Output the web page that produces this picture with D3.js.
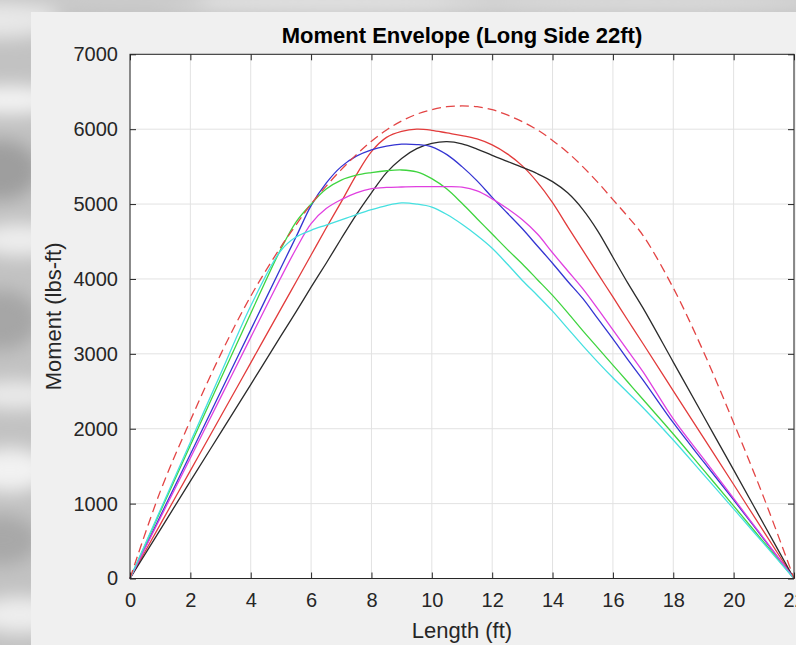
<!DOCTYPE html>
<html>
  <head>
    <title>Moment Envelope</title>
    <style>
      body { margin: 0; background: #c4c4c4; }
      svg { display: block; font-family: "Liberation Sans", Arial, Helvetica, sans-serif; }
      .grid line { stroke: #e2e2e2; stroke-width: 1px; }
      .curve { fill: none; stroke-width: 1.3px; }
    </style>
    <script src="https://cdn.jsdelivr.net/npm/d3@7"></script>
  </head>
  <body>
    <div id="chart"></div>
    <script type="text/javascript">
      // positions along the span (ft)
      var positions = [0, 1, 2, 3, 4, 5, 5.5, 6, 6.5, 7, 7.5, 8, 8.5, 9, 9.5, 10, 10.5, 11, 11.5,
                       12, 12.5, 13, 13.5, 14, 14.5, 15, 15.5, 16, 16.5, 17, 18, 19, 20, 21, 22];

      // moment values (lbs-ft) read at each position
      var envelope = [0, 1160, 2110, 2990, 3770, 4430, 4720, 5000, 5240, 5460, 5660, 5840, 5990, 6110, 6200,
                      6260, 6300, 6310, 6300, 6260, 6190, 6100, 5990, 5850, 5690, 5500, 5290, 5060, 4830,
                      4580, 3880, 3030, 2080, 1080, 0];
      var redM     = [0, 720, 1440, 2160, 2880, 3600, 3960, 4320, 4680, 5030, 5390, 5700, 5890, 5970, 6000,
                      5985, 5950, 5915, 5870, 5790, 5670, 5510, 5290, 5020, 4700, 4385, 4070, 3760, 3445,
                      3135, 2505, 1880, 1255, 625, 0];
      var blackM   = [0, 650, 1300, 1945, 2590, 3240, 3560, 3890, 4210, 4540, 4860, 5150, 5420, 5610, 5740,
                      5810, 5833, 5805, 5735, 5650, 5570, 5490, 5405, 5300, 5150, 4930, 4640, 4290, 3940,
                      3610, 2890, 2170, 1450, 725, 0];
      var blueM    = [0, 830, 1660, 2490, 3320, 4150, 4560, 4980, 5280, 5500, 5640, 5725, 5775, 5800, 5795,
                      5765, 5660, 5500, 5310, 5090, 4880, 4670, 4440, 4210, 3970, 3740, 3470, 3200, 2920,
                      2650, 2080, 1560, 1050, 525, 0];
      var greenM   = [0, 890, 1780, 2660, 3540, 4400, 4760, 5000, 5200, 5320, 5385, 5420, 5445, 5455, 5430,
                      5340, 5200, 5010, 4805, 4600, 4395, 4200, 3990, 3780, 3550, 3310, 3080, 2850, 2620,
                      2390, 1930, 1450, 970, 485, 0];
      var magentaM = [0, 805, 1610, 2415, 3220, 4020, 4400, 4740, 4940, 5060, 5150, 5205, 5222, 5228, 5232,
                      5233, 5232, 5225, 5175, 5070, 4940, 4790, 4600, 4350, 4110, 3870, 3600, 3320, 3040,
                      2760, 2130, 1600, 1070, 535, 0];
      var cyanM    = [0, 910, 1820, 2730, 3640, 4380, 4560, 4650, 4720, 4790, 4860, 4925, 4980, 5015, 5000,
                      4960, 4860, 4730, 4580, 4410, 4200, 3980, 3780, 3570, 3340, 3110, 2890, 2680, 2480,
                      2280, 1850, 1390, 930, 465, 0];

      var xTicks = [0, 2, 4, 6, 8, 10, 12, 14, 16, 18, 20, 22];
      var yTicks = [0, 1000, 2000, 3000, 4000, 5000, 6000, 7000];

      var series = [
        {values: redM,     color: "#e23b3b"},
        {values: blackM,   color: "#2b2b2b"},
        {values: blueM,    color: "#3434d2"},
        {values: greenM,   color: "#3fd43f"},
        {values: magentaM, color: "#e040e0"},
        {values: cyanM,    color: "#45e0e0"},
        {values: envelope, color: "#e34444", dash: "9,5"}
      ];

      var width = 796, height = 645;
      var plotL = 130, plotR = 794, plotT = 54.3, plotB = 578.5;

      var svg = d3.select("#chart").append("svg")
        .attr("width", width)
        .attr("height", height);

      // blurred photo-like backdrop behind the figure window
      var defs = svg.append("defs");
      defs.append("filter").attr("id", "blur")
        .attr("x", "-50%").attr("y", "-50%").attr("width", "200%").attr("height", "200%")
        .append("feGaussianBlur").attr("stdDeviation", 9);
      svg.append("rect").attr("width", width).attr("height", height).attr("fill", "#c2c2c2");
      var streaks = [
        [0, 20, 60, 18, "#e8e8e8"], [10, 100, 50, 14, "#f4f4f4"], [0, 170, 40, 30, "#9e9e9e"],
        [20, 240, 45, 16, "#eeeeee"], [0, 320, 40, 30, "#a6a6a6"], [15, 395, 45, 14, "#ebebeb"],
        [10, 470, 40, 22, "#f2f2f2"], [0, 540, 40, 25, "#a8a8a8"], [20, 615, 45, 18, "#eeeeee"],
        [330, 2, 220, 10, "#e6e6e6"], [640, 2, 200, 10, "#dedede"], [120, 0, 90, 8, "#cfcfcf"]
      ];
      svg.append("g").attr("filter", "url(#blur)")
        .selectAll("ellipse").data(streaks).enter().append("ellipse")
        .attr("cx", function(d){ return d[0]; })
        .attr("cy", function(d){ return d[1]; })
        .attr("rx", function(d){ return d[2]; })
        .attr("ry", function(d){ return d[3]; })
        .attr("fill", function(d){ return d[4]; });

      // figure window
      svg.append("rect").attr("x", 31).attr("y", 12)
        .attr("width", width - 31).attr("height", height - 12)
        .attr("fill", "#f0f0f0");

      var x = d3.scaleLinear().domain([0, 22]).range([plotL, plotR]);
      var y = d3.scaleLinear().domain([0, 7000]).range([plotB, plotT]);

      svg.append("rect")
        .attr("x", plotL).attr("y", plotT)
        .attr("width", plotR - plotL).attr("height", plotB - plotT)
        .attr("fill", "#ffffff");

      // grid
      var grid = svg.append("g").attr("class", "grid");
      grid.selectAll(".gx").data(xTicks).enter().append("line")
        .attr("x1", function(d){ return x(d); }).attr("x2", function(d){ return x(d); })
        .attr("y1", plotT).attr("y2", plotB);
      grid.selectAll(".gy").data(yTicks).enter().append("line")
        .attr("x1", plotL).attr("x2", plotR)
        .attr("y1", function(d){ return y(d); }).attr("y2", function(d){ return y(d); });

      // curves
      var line = d3.line()
        .x(function(d){ return x(d[0]); })
        .y(function(d){ return y(d[1]); })
        .curve(d3.curveCatmullRom.alpha(0.5));

      svg.selectAll(".curve").data(series).enter().append("path")
        .attr("class", "curve")
        .attr("d", function(s){ return line(positions.map(function(p, i){ return [p, s.values[i]]; })); })
        .attr("stroke", function(s){ return s.color; })
        .attr("stroke-dasharray", function(s){ return s.dash || null; });

      // axes (ticks inside, box on)
      function styleAxis(g) {
        g.select(".domain").remove();
        g.selectAll(".tick line").attr("stroke", "#262626");
        g.selectAll(".tick text").attr("fill", "#262626").style("font-size", "20px")
          .style("font-family", "'Liberation Sans', Arial, sans-serif");
      }
      svg.append("g").attr("transform", "translate(0," + plotB + ")")
        .call(d3.axisBottom(x).tickValues(xTicks).tickSize(-6).tickPadding(14).tickFormat(d3.format("d")))
        .call(styleAxis);
      svg.append("g").attr("transform", "translate(0," + plotT + ")")
        .call(d3.axisTop(x).tickValues(xTicks).tickSize(-6).tickFormat(""))
        .call(styleAxis);
      svg.append("g").attr("transform", "translate(" + plotL + ",0)")
        .call(d3.axisLeft(y).tickValues(yTicks).tickSize(-6).tickPadding(12).tickFormat(d3.format("d")))
        .call(styleAxis);
      svg.append("g").attr("transform", "translate(" + plotR + ",0)")
        .call(d3.axisRight(y).tickValues(yTicks).tickSize(-6).tickFormat(""))
        .call(styleAxis);

      svg.append("rect")
        .attr("x", plotL).attr("y", plotT)
        .attr("width", plotR - plotL).attr("height", plotB - plotT)
        .attr("fill", "none").attr("stroke", "#262626").attr("stroke-width", 1);

      // title and labels
      svg.append("text")
        .attr("x", (plotL + plotR) / 2).attr("y", 43)
        .attr("text-anchor", "middle")
        .style("font-size", "22px").style("font-weight", "bold").attr("fill", "#000")
        .text("Moment Envelope (Long Side 22ft)");
      svg.append("text")
        .attr("x", (plotL + plotR) / 2).attr("y", 638)
        .attr("text-anchor", "middle")
        .style("font-size", "22px").attr("fill", "#262626")
        .text("Length (ft)");
      svg.append("text")
        .attr("transform", "translate(61," + ((plotT + plotB) / 2) + ") rotate(-90)")
        .attr("text-anchor", "middle")
        .style("font-size", "22px").attr("fill", "#262626")
        .text("Moment (lbs-ft)");
    </script>
  </body>
</html>
